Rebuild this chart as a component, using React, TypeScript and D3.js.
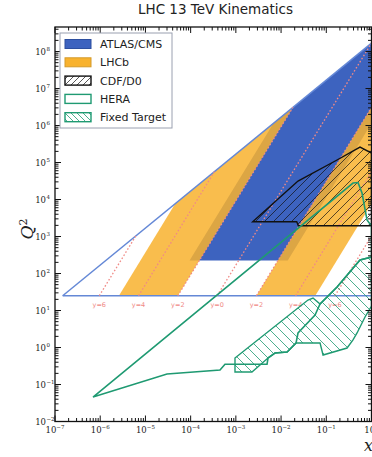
import React from 'react';
import * as d3 from 'd3';

const W = 372;
const H = 457;
const PL = 55, PR = 371.5, PT = 27, PB = 421.5;

// kinematics definition
const sqrtS = 13000;
const q2Min = 25;
const q2MinAtlas = 225;
const rapidities = [6, 4, 2, 0, -2, -4, -6];
const rapidityLabels = ['y=6', 'y=4', 'y=2', 'y=0', 'y=2', 'y=4', 'y=6'];
const atlasRap = [-2.5, 2.5];
const lhcbRapLeft = [2, 5];
const lhcbRapRight = [-5, -2];

const xTickExps = [-7, -6, -5, -4, -3, -2, -1, 0];
const yTickExps = [-2, -1, 0, 1, 2, 3, 4, 5, 6, 7, 8];

// CDF/D0 region outline
const cdfX = [2.36e-3, 0.0237, 0.173, 0.557, 1.0, 1.0, 0.0241, 0.0222];
const cdfQ2 = [2.5e3, 3.16e4, 1.17e5, 2.62e5, 1.8e5, 1.96e3, 1.96e3, 2.5e3];

// HERA region outline
const heraX = [6.93e-7, 0.39, 0.503, 0.617, 0.796, 1.0, 1.0, 0.557, 0.173, 0.104, 0.0728, 0.0564, 0.0237, 0.0214, 0.0136, 7.35e-3, 5.14e-3, 4.89e-3, 5.75e-4, 4.46e-4, 3.0e-5];
const heraQ2 = [0.0459, 2.79e4, 2.88e4, 1.5e4, 2.79e3, 1.92e3, 279, 232, 43.2, 23.2, 15, 7.55, 2.47, 1.32, 0.755, 0.71, 0.52, 0.352, 0.352, 0.247, 0.192];

// Fixed target region outline
const ftX = [9.57e-4, 0.0394, 0.0509, 0.0728, 0.104, 0.173, 0.557, 1.0, 1.0, 0.719, 0.479, 0.39, 0.288, 0.0848, 0.0728, 0.0214, 0.0136, 7.35e-3, 5.14e-3, 2.27e-3, 9.57e-4];
const ftQ2 = [0.52, 19.2, 21.8, 15, 23.2, 43.2, 232, 279, 13.2, 6.67, 2.47, 1.6, 0.968, 0.627, 1.32, 1.32, 0.755, 0.71, 0.52, 0.218, 0.218];

const legendLabels = ['ATLAS/CMS', 'LHCb', 'CDF/D0', 'HERA', 'Fixed Target'];

const BLUE = '#3d63bf';
const BLUE_EDGE = '#2d4f9f';
const ORANGE = '#f8b22e';
const GREEN = '#1f9a72';
const PINK = '#f08a86';
const OUTLINE_BLUE = '#6488d6';

const sup = (e: number) => (e < 0 ? '\u2212' + Math.abs(e) : String(e));

export default function App() {
  const x = d3.scaleLog().domain([1e-7, 1]).range([PL, PR]);
  const y = d3.scaleLog().domain([1e-2, 4.6e8]).range([PB, PT]);
  const s = sqrtS * sqrtS;
  const xAt = (rap: number, q2: number) => Math.sqrt(q2 / s) * Math.exp(-rap);
  const band = (lo: number, hi: number, qmin: number): [number, number][] => [
    [xAt(hi, qmin), qmin],
    [Math.exp(-2 * hi), s * Math.exp(-2 * hi)],
    [Math.exp(-2 * lo), s * Math.exp(-2 * lo)],
    [xAt(lo, qmin), qmin],
  ];
  const line = d3.line<[number, number]>().x((d) => x(d[0])).y((d) => y(d[1]));
  const poly = (xs: number[], qs: number[]) => line(xs.map((v, i) => [v, qs[i]] as [number, number])) + 'Z';

  const apexX = q2Min / s;
  const triangleTop = line([[apexX, q2Min], [1, s]]);
  const triangleBottom = line([[apexX, q2Min], [1, q2Min]]);

  const minorX: number[] = [];
  xTickExps.slice(0, -1).forEach((e) => {
    for (let m = 2; m <= 9; m++) minorX.push(m * Math.pow(10, e));
  });
  const minorY: number[] = [];
  yTickExps.forEach((e) => {
    for (let m = 2; m <= 9; m++) {
      const v = m * Math.pow(10, e);
      if (v < 4.6e8) minorY.push(v);
    }
  });

  const legendY = [44, 62.3, 80.6, 98.9, 117.2];

  return (
    <svg width={W} height={H} style={{ position: 'absolute', left: 0, top: 0, background: '#fff' }}
      fontFamily="DejaVu Sans, sans-serif">
      <defs>
        <clipPath id="plotclip">
          <rect x={PL} y={PT} width={PR - PL} height={PB - PT} />
        </clipPath>
        <pattern id="hatchBlack" patternUnits="userSpaceOnUse" width={9} height={9}>
          <path d="M-1,1 L1,-1 M0,9 L9,0 M8,10 L10,8" stroke="#111" strokeWidth={0.7} />
        </pattern>
        <pattern id="hatchGreen" patternUnits="userSpaceOnUse" width={10} height={10}>
          <path d="M-1,9 L1,11 M0,0 L10,10 M9,-1 L11,1" stroke={GREEN} strokeWidth={0.8} />
        </pattern>
        <pattern id="hatchBlackL" patternUnits="userSpaceOnUse" width={6} height={6}>
          <path d="M-1,1 L1,-1 M0,6 L6,0 M5,7 L7,5" stroke="#111" strokeWidth={0.7} />
        </pattern>
        <pattern id="hatchGreenL" patternUnits="userSpaceOnUse" width={6} height={6}>
          <path d="M-1,5 L1,7 M0,0 L6,6 M5,-1 L7,1" stroke={GREEN} strokeWidth={0.8} />
        </pattern>
      </defs>

      <text x={215.5} y={14} textAnchor="middle" fontSize={13.5} fill="#222">LHC 13 TeV Kinematics</text>

      <g clipPath="url(#plotclip)">
        <path d={line(band(atlasRap[0], atlasRap[1], q2MinAtlas)) + 'Z'} fill={BLUE} />
        <path d={line(band(lhcbRapLeft[0], lhcbRapLeft[1], q2Min)) + 'Z'} fill={ORANGE} fillOpacity={0.85} />
        <path d={line(band(lhcbRapRight[0], lhcbRapRight[1], q2Min)) + 'Z'} fill={ORANGE} fillOpacity={0.85} />

        <path d={triangleTop || ''} fill="none" stroke={OUTLINE_BLUE} strokeWidth={1.5} />
        <path d={triangleBottom || ''} fill="none" stroke={OUTLINE_BLUE} strokeWidth={1.5} />

        {rapidities.map((r, i) => (
          <path key={'r' + i}
            d={line([[xAt(r, q2Min), q2Min], [Math.exp(-2 * r), s * Math.exp(-2 * r)]]) || ''}
            fill="none" stroke={PINK} strokeWidth={1.3} strokeDasharray="1.6,2" />
        ))}
        {rapidities.map((r, i) => (
          <text key={'rl' + i} x={x(xAt(r, q2Min))} y={y(q2Min) + 11} textAnchor="middle"
            fontSize={6.5} fill={PINK}>{rapidityLabels[i]}</text>
        ))}

        <path d={poly(cdfX, cdfQ2)} fill="url(#hatchBlack)" stroke="#111" strokeWidth={1.4} />
        <path d={poly(ftX, ftQ2)} fill="url(#hatchGreen)" stroke={GREEN} strokeWidth={1.4} />
        <path d={poly(heraX, heraQ2)} fill="none" stroke={GREEN} strokeWidth={1.6} />
      </g>

      {/* frame */}
      <rect x={PL} y={PT} width={PR - PL} height={PB - PT} fill="none" stroke="#111" strokeWidth={1.3} />

      {/* x ticks */}
      {xTickExps.map((e) => {
        const px = x(Math.pow(10, e));
        return (
          <g key={'xt' + e}>
            <line x1={px} x2={px} y1={PB} y2={PB - 6} stroke="#111" strokeWidth={1} />
            <line x1={px} x2={px} y1={PT} y2={PT + 6} stroke="#111" strokeWidth={1} />
            <text x={px} y={433} textAnchor="middle" fontSize={8.5} fontFamily="DejaVu Serif, serif" fill="#222">
              10<tspan dy={-4} fontSize={5.5}>{sup(e)}</tspan>
            </text>
          </g>
        );
      })}
      {minorX.map((v, i) => {
        const px = x(v);
        return (
          <g key={'xm' + i}>
            <line x1={px} x2={px} y1={PB} y2={PB - 3.5} stroke="#111" strokeWidth={1} />
            <line x1={px} x2={px} y1={PT} y2={PT + 3.5} stroke="#111" strokeWidth={1} />
          </g>
        );
      })}

      {/* y ticks */}
      {yTickExps.map((e) => {
        const py = y(Math.pow(10, e));
        return (
          <g key={'yt' + e}>
            <line x1={PL} x2={PL + 6} y1={py} y2={py} stroke="#111" strokeWidth={1} />
            <line x1={PR} x2={PR - 6} y1={py} y2={py} stroke="#111" strokeWidth={1} />
            <text x={46} y={py + 3} textAnchor="end" fontSize={8.5} fontFamily="DejaVu Serif, serif" fill="#222">
              10
            </text>
            <text x={46.5} y={py - 1} textAnchor="start" fontSize={5.5} fontFamily="DejaVu Serif, serif" fill="#222">
              {sup(e)}
            </text>
          </g>
        );
      })}
      {minorY.map((v, i) => {
        const py = y(v);
        return (
          <g key={'ym' + i}>
            <line x1={PL} x2={PL + 3.5} y1={py} y2={py} stroke="#111" strokeWidth={1} />
            <line x1={PR} x2={PR - 3.5} y1={py} y2={py} stroke="#111" strokeWidth={1} />
          </g>
        );
      })}

      {/* axis labels */}
      <text transform="translate(33,229) rotate(-90)" textAnchor="middle" fontSize={17}
        fontFamily="DejaVu Serif, serif" fontStyle="italic" fill="#222">
        Q<tspan dy={-6} fontSize={11} fontStyle="normal">2</tspan>
      </text>
      <text x={364} y={451} fontSize={16} fontFamily="DejaVu Serif, serif" fontStyle="italic" fill="#222">x</text>

      {/* legend */}
      <rect x={60} y={33} width={112} height={95} fill="#fff" stroke="#9aa0b0" strokeWidth={1} />
      {legendLabels.map((lab, i) => {
        const cy = legendY[i];
        const common = { x: 65, y: cy - 4.5, width: 26, height: 9 };
        let patch;
        if (i === 0) patch = <rect {...common} fill={BLUE} stroke={BLUE_EDGE} strokeWidth={1} />;
        else if (i === 1) patch = <rect {...common} fill={ORANGE} stroke="#d49a2a" strokeWidth={1} />;
        else if (i === 2) patch = <rect {...common} fill="url(#hatchBlackL)" stroke="#111" strokeWidth={1.4} />;
        else if (i === 3) patch = <rect {...common} fill="#fff" stroke={GREEN} strokeWidth={1.4} />;
        else patch = <rect {...common} fill="url(#hatchGreenL)" stroke={GREEN} strokeWidth={1.4} />;
        return (
          <g key={'lg' + i}>
            {patch}
            <text x={100} y={cy + 4} fontSize={11} fill="#222">{lab}</text>
          </g>
        );
      })}
    </svg>
  );
}
